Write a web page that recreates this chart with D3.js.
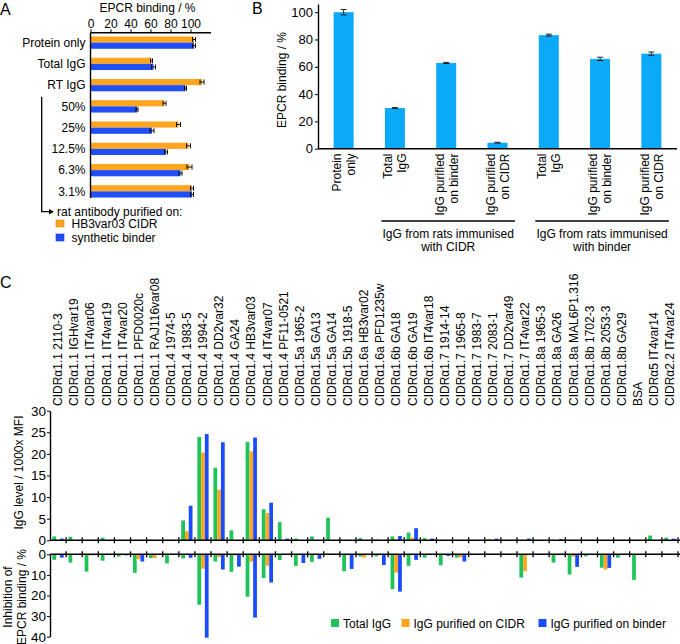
<!DOCTYPE html>
<html><head><meta charset="utf-8">
<script src="https://cdn.jsdelivr.net/npm/d3@7"></script>
<style>
body{margin:0;background:#fff;}
svg text{font-family:Arial,"Liberation Sans",sans-serif;fill:#000;}
</style></head><body>
<svg id="chart" width="680" height="644"></svg>
<script>
// ---------- Panel A data ----------
const aCategories = ["Protein only","Total IgG","RT IgG","50%","25%","12.5%","6.3%","3.1%"];
const aCIDR      = [103.5, 61, 111.5, 74, 88, 98, 99, 101.5];
const aCIDRErr   = [1.5, 1, 2, 1.5, 2, 2, 2.5, 1.5];
const aBinder    = [103.5, 63, 95, 46.5, 61.5, 75.5, 90, 101.5];
const aBinderErr = [1.5, 2, 1, 1, 2, 1.5, 1.5, 1.5];
const aTicks = [0, 20, 40, 60, 80, 100];
const aSeries = ["HB3var03 CIDR", "synthetic binder"];

// ---------- Panel B data ----------
const bCategories = [["Protein","only"],["Total","IgG"],["IgG purified","on binder"],["IgG purified","on CIDR"],["Total","IgG"],["IgG purified","on binder"],["IgG purified","on CIDR"]];
const bValues = [100, 29.8, 62.8, 4.4, 83.2, 65.8, 69.6];
const bErrors = [2, 0.3, 0.4, 0.3, 0.7, 1.2, 1.2];
const bGroups = [["IgG from rats immunised","with CIDR"],["IgG from rats immunised","with binder"]];
const bGroupRanges = [[1,3],[4,6]];
const bTicks = [0, 20, 40, 60, 80, 100];

// ---------- Panel C data ----------
const cCategories = ["CIDRα1.1 2110-3","CIDRα1.1 IGHvar19","CIDRα1.1 IT4var06","CIDRα1.1 IT4var19","CIDRα1.1 IT4var20","CIDRα1.1 PFD0020c","CIDRα1.1 RAJ116var08","CIDRα1.4 1974-5","CIDRα1.4 1983-5","CIDRα1.4 1994-2","CIDRα1.4 DD2var32","CIDRα1.4 GA24","CIDRα1.4 HB3var03","CIDRα1.4 IT4var07","CIDRα1.4 PF11-0521","CIDRα1.5a 1965-2","CIDRα1.5a GA13","CIDRα1.5a GA14","CIDRα1.5b 1918-5","CIDRα1.6a HB3var02","CIDRα1.6a PFD1235w","CIDRα1.6b GA18","CIDRα1.6b GA19","CIDRα1.6b IT4var18","CIDRα1.7 1914-14","CIDRα1.7 1965-8","CIDRα1.7 1983-7","CIDRα1.7 2083-1","CIDRα1.7 DD2var49","CIDRα1.7 IT4var22","CIDRα1.8a 1965-3","CIDRα1.8a GA26","CIDRα1.8a MAL6P1.316","CIDRα1.8b 1702-3","CIDRα1.8b 2053-3","CIDRα1.8b GA29","BSA","CIDRα5 IT4var14","CIDRα2.2 IT4var24"];
const cSeries = ["Total IgG","IgG purified on CIDR","IgG purified on binder"];
// IgG level / 1000x MFI
const igTotal  = [0.9,0.8,0,0.6,0,0,0.15,0,4.6,23.9,16.8,2.3,22.8,7.2,4.2,0.4,0.9,5.2,0,0.5,0.2,0.9,1.8,0.5,0,0,0,0.2,0,0.1,0,0.1,0,0,0.1,0,0,1.1,0.6];
const igCIDR   = [0,0,0,0,0,0,0,0,2.1,20.3,11.7,0,20.6,6.3,0,0,0,0,0,0,0,0.2,0.6,0,0,0,0,0,0,0,0,0,0,0,0,0,0,0,0];
const igBinder = [0.4,0,0,0,0,0,0,0,8.0,24.6,22.7,0,23.8,8.7,0.4,0,0,0,0,0,0,1.0,2.8,0.4,0,0,0,0.4,0,0.4,0,0.3,0,0,0,0,0,0,0.4];
// Inhibition of EPCR binding / %
const inhTotal  = [2.7,4.0,8.4,3.1,1.1,9.0,1.8,4.4,2.0,24.5,3.5,8.5,20.6,11.5,2.8,5.6,3.7,0.3,8.2,1.1,1.0,16.9,5.6,1.6,5.3,1.6,0,0,0,11.3,0,4.0,9.8,1.0,6.5,1.6,12.4,0,0];
const inhCIDR   = [0,0,0.6,0,0,2.3,1.8,0,0,7.0,1.4,0.5,3.6,5.6,0,0,0,0,0,1.6,0,8.9,0,0,0,1.5,0,0,0,8.2,0,0,1.1,0,7.4,0,0,0,0];
const inhBinder = [1.6,0,0.4,0,0.5,3.5,0,0,1.7,40.5,7.4,6.0,30.7,13.7,0,4.2,2.2,0,7.1,0,5.2,18.1,2.7,0,0.8,3.5,0,0,0,0,0,0,6.1,0,6.6,0,0,0,0];
const cUpTicks = [0,5,10,15,20,25,30];
const cDnTicks = [0,10,20,30,40];

const ORANGE = "#FFA51F", BLUE = "#1F4FF5", LIGHTBLUE = "#0AAAF8", GREEN = "#1EC45A";
const cColors = [GREEN, ORANGE, "#1A4BFF"];

const svg = d3.select("#chart");
const FONT = "Arial, 'Liberation Sans', sans-serif";

// panel letters
[["A",0,15],["B",252,13.5],["C",0,288]].forEach(([t,x,y]) =>
  svg.append("text").attr("x",x).attr("y",y).attr("font-size",16).text(t));

// ================= Panel A =================
{
  const xA = d3.scaleLinear().domain([0,120]).range([90.5,210.5]);
  const yA = d3.scaleBand().domain(aCategories).range([32,202]).paddingInner(0.42).paddingOuter(0.21);
  const half = yA.bandwidth()/2;
  const g = svg.append("g");
  const rows = aCategories.map((c,i)=>({c,i}));
  // bars
  g.selectAll(".ao").data(rows).join("rect")
    .attr("x",xA(0)).attr("y",d=>yA(d.c)).attr("height",half)
    .attr("width",d=>xA(aCIDR[d.i])-xA(0)).attr("fill",ORANGE);
  g.selectAll(".ab").data(rows).join("rect")
    .attr("x",xA(0)).attr("y",d=>yA(d.c)+half).attr("height",half)
    .attr("width",d=>xA(aBinder[d.i])-xA(0)).attr("fill",BLUE);
  // error bars
  const errs = [];
  rows.forEach(d=>{
    errs.push({v:aCIDR[d.i], e:aCIDRErr[d.i], y:yA(d.c)+half/2});
    errs.push({v:aBinder[d.i], e:aBinderErr[d.i], y:yA(d.c)+half*1.5});
  });
  const eg = g.append("g").attr("stroke","#111").attr("stroke-width",1);
  errs.forEach(d=>{
    eg.append("line").attr("x1",xA(d.v-d.e)).attr("x2",xA(d.v+d.e)).attr("y1",d.y).attr("y2",d.y);
    eg.append("line").attr("x1",xA(d.v-d.e)).attr("x2",xA(d.v-d.e)).attr("y1",d.y-2.5).attr("y2",d.y+2.5);
    eg.append("line").attr("x1",xA(d.v+d.e)).attr("x2",xA(d.v+d.e)).attr("y1",d.y-2.5).attr("y2",d.y+2.5);
  });
  // top axis
  const ax = g.append("g").attr("transform","translate(0,32.3)")
    .call(d3.axisTop(xA).tickValues(aTicks).tickSize(3).tickPadding(1).tickSizeOuter(0));
  ax.select(".domain").attr("stroke-width",1.4);
  ax.selectAll("text").attr("font-size",12).attr("font-family",FONT);
  svg.append("text").attr("x",(xA(0)+xA(120))/2-3).attr("y",11.5).attr("text-anchor","middle")
    .attr("font-size",12).text("EPCR binding / %");
  // left axis line
  g.append("line").attr("x1",xA(0)).attr("x2",xA(0)).attr("y1",32.3).attr("y2",yA.range()[1]-4)
    .attr("stroke","#000").attr("stroke-width",1.4);
  // category labels
  g.selectAll(".al").data(aCategories).join("text")
    .attr("x",xA(0)-5).attr("y",d=>yA(d)+yA.bandwidth()/2).attr("dy","0.35em")
    .attr("text-anchor","end").attr("font-size",12).text(d=>d);
  // bracket + arrow
  const bt = yA("50%")-3.5, bb = 211.7;
  g.append("path").attr("d",`M41.7,${bt}V${bb}H50`).attr("fill","none").attr("stroke","#000").attr("stroke-width",1.3);
  g.append("path").attr("d",`M54,${bb}L49,${bb-2.8}L49,${bb+2.8}Z`).attr("fill","#000");
  g.append("text").attr("x",57).attr("y",bb+3.8).attr("font-size",12).text("rat antibody purified on:");
  [ORANGE,BLUE].forEach((col,i)=>{
    g.append("rect").attr("x",56).attr("y",220+i*14).attr("width",8).attr("height",7).attr("fill",col)
      .attr("stroke",d3.color(col).darker(0.6)).attr("stroke-width",0.6);
    g.append("text").attr("x",71.5).attr("y",228+i*13.5).attr("font-size",12).text(aSeries[i]);
  });
}

// ================= Panel B =================
{
  const idx = d3.range(bValues.length);
  const xB = d3.scaleBand().domain(idx).range([318,677]).paddingInner(0.61).paddingOuter(0.305);
  const yB = d3.scaleLinear().domain([0,106]).range([148.7,4]);
  const g = svg.append("g");
  g.selectAll(".bb").data(idx).join("rect")
    .attr("x",i=>xB(i)).attr("width",xB.bandwidth())
    .attr("y",i=>yB(bValues[i])).attr("height",i=>yB(0)-yB(bValues[i])).attr("fill",LIGHTBLUE);
  const eg = g.append("g").attr("stroke","#222").attr("stroke-width",1);
  idx.forEach(i=>{
    const cx = xB(i)+xB.bandwidth()/2, lo=yB(bValues[i]-bErrors[i]), hi=yB(bValues[i]+bErrors[i]);
    eg.append("line").attr("x1",cx).attr("x2",cx).attr("y1",lo).attr("y2",hi);
    eg.append("line").attr("x1",cx-3).attr("x2",cx+3).attr("y1",lo).attr("y2",lo);
    eg.append("line").attr("x1",cx-3).attr("x2",cx+3).attr("y1",hi).attr("y2",hi);
  });
  const ay = g.append("g").attr("transform",`translate(${xB.range()[0]},0)`)
    .call(d3.axisLeft(yB).tickValues(bTicks).tickSize(3).tickPadding(2).tickSizeOuter(0));
  ay.select(".domain").attr("stroke-width",1.4);
  ay.selectAll("text").attr("font-size",13).attr("font-family",FONT);
  g.append("line").attr("x1",xB.range()[0]).attr("x2",xB.range()[1]).attr("y1",yB(0)).attr("y2",yB(0))
    .attr("stroke","#000").attr("stroke-width",1.4);
  g.append("text").attr("transform",`translate(285.5,80) rotate(-90)`).attr("text-anchor","middle")
    .attr("font-size",12).text("EPCR binding / %");
  // category labels
  idx.forEach(i=>{
    const cx = xB(i)+xB.bandwidth()/2;
    const t = g.append("text").attr("transform",`translate(${cx},153.5) rotate(-90)`)
      .attr("text-anchor","end").attr("font-size",12);
    t.append("tspan").attr("x",0).attr("y",-2.7).text(bCategories[i][0]);
    t.append("tspan").attr("x",0).attr("y",11.3).text(bCategories[i][1]);
  });
  // group brackets
  bGroupRanges.forEach((r,k)=>{
    const x1 = xB(r[0])+xB.bandwidth()/2-13.5, x2 = xB(r[1])+xB.bandwidth()/2+17.5;
    g.append("line").attr("x1",x1).attr("x2",x2).attr("y1",221).attr("y2",221).attr("stroke","#000").attr("stroke-width",1.4);
    g.append("text").attr("x",(x1+x2)/2).attr("y",237.5).attr("text-anchor","middle").attr("font-size",12).text(bGroups[k][0]);
    g.append("text").attr("x",(x1+x2)/2).attr("y",251).attr("text-anchor","middle").attr("font-size",12).text(bGroups[k][1]);
  });
}

// ================= Panel C =================
{
  const idx = d3.range(cCategories.length);
  const xC = d3.scaleBand().domain(idx).range([50,678]).paddingInner(0.3).paddingOuter(0.15);
  const xS = d3.scaleBand().domain([0,1,2]).range([0,xC.bandwidth()]);
  const yUp = d3.scaleLinear().domain([0,30]).range([540.3,410.7]);
  const yDn = d3.scaleLinear().domain([0,40]).range([554.3,636.7]);
  const g = svg.append("g");
  const upSeries = [igTotal, igCIDR, igBinder];
  const dnSeries = [inhTotal, inhCIDR, inhBinder];
  upSeries.forEach((arr,s)=>{
    g.append("g").selectAll("rect").data(idx.filter(i=>arr[i]>0)).join("rect")
      .attr("x",i=>xC(i)+xS(s)).attr("width",xS.bandwidth())
      .attr("y",i=>yUp(arr[i])).attr("height",i=>yUp(0)-yUp(arr[i])).attr("fill",cColors[s]);
  });
  dnSeries.forEach((arr,s)=>{
    g.append("g").selectAll("rect").data(idx.filter(i=>arr[i]>0)).join("rect")
      .attr("x",i=>xC(i)+xS(s)).attr("width",xS.bandwidth())
      .attr("y",yDn(0)).attr("height",i=>yDn(arr[i])-yDn(0)).attr("fill",cColors[s]);
  });
  // y axes
  const a1 = g.append("g").attr("transform","translate(50,0)")
    .call(d3.axisLeft(yUp).tickValues(cUpTicks).tickSize(3).tickPadding(1).tickSizeOuter(0));
  const a2 = g.append("g").attr("transform","translate(50,0)")
    .call(d3.axisLeft(yDn).tickValues(cDnTicks).tickSize(3).tickPadding(1).tickSizeOuter(0));
  [a1,a2].forEach(a=>{
    a.select(".domain").attr("stroke-width",1.4);
    a.selectAll("text").attr("font-size",13.5).attr("font-family",FONT);
  });
  // x axes with boundary ticks
  const bounds = d3.range(cCategories.length+1).map(i=>xC.range()[0]+i*xC.step());
  [yUp(0), yDn(0)].forEach(y0=>{
    g.append("line").attr("x1",xC.range()[0]).attr("x2",680).attr("y1",y0).attr("y2",y0)
      .attr("stroke","#000").attr("stroke-width",1.4);
    g.append("g").selectAll("line").data(bounds.slice(1)).join("line")
      .attr("x1",d=>d).attr("x2",d=>d).attr("y1",y0-3).attr("y2",y0+3)
      .attr("stroke","#000").attr("stroke-width",1.3);
  });
  // category labels
  g.selectAll(".cl").data(idx).join("text")
    .attr("transform",i=>`translate(${xC(i)+xC.bandwidth()/2},406) rotate(-90)`)
    .attr("dy","0.35em").attr("text-anchor","start").attr("font-size",12)
    .text(i=>cCategories[i]);
  // axis titles
  g.append("text").attr("transform","translate(23,472.5) rotate(-90)").attr("text-anchor","middle")
    .attr("font-size",12).text("IgG level / 1000x MFI");
  g.append("text").attr("transform","translate(12,597) rotate(-90)").attr("text-anchor","middle")
    .attr("font-size",12).text("Inhibition of");
  g.append("text").attr("transform","translate(25.5,597) rotate(-90)").attr("text-anchor","middle")
    .attr("font-size",12).text("EPCR binding / %");
  // legend
  const lx = [331, 401.5, 538.5];
  cSeries.forEach((s,k)=>{
    g.append("rect").attr("x",lx[k]).attr("y",619).attr("width",8).attr("height",8).attr("fill",cColors[k]);
    g.append("text").attr("x",lx[k]+12).attr("y",627.5).attr("font-size",12).text(s);
  });
}
</script>
</body></html>
